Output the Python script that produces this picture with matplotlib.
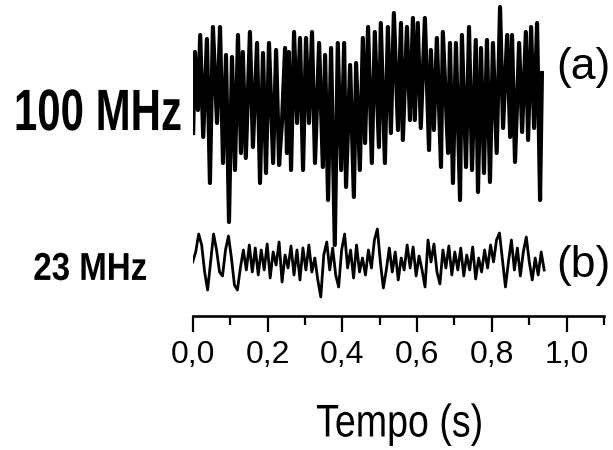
"""Two stacked noise traces (100 MHz and 23 MHz) over a common time axis."""
import matplotlib
matplotlib.use('Agg')
import matplotlib.pyplot as plt
import numpy as np
from matplotlib.patheffects import AbstractPathEffect
from matplotlib.transforms import Affine2D

plt.rcParams['font.family'] = ['Liberation Sans', 'DejaVu Sans']

# (a) 100 MHz trace: time (s) and amplitude (arb. units), read at peaks/troughs
T_A = [0.001, 0.006, 0.014, 0.020, 0.028, 0.038, 0.046, 0.054, 0.065, 0.073,
       0.081, 0.089, 0.097, 0.105, 0.113, 0.121, 0.129, 0.134, 0.142, 0.153,
       0.161, 0.172, 0.180, 0.188, 0.196, 0.204, 0.215, 0.223, 0.231, 0.239,
       0.247, 0.252, 0.257, 0.263, 0.271, 0.279, 0.287, 0.295, 0.303, 0.311,
       0.319, 0.327, 0.338, 0.348, 0.354, 0.362, 0.370, 0.380, 0.388, 0.397,
       0.405, 0.410, 0.421, 0.431, 0.437, 0.447, 0.455, 0.461, 0.469, 0.479,
       0.487, 0.498, 0.503, 0.514, 0.522, 0.530, 0.538, 0.549, 0.557, 0.562,
       0.573, 0.581, 0.589, 0.594, 0.602, 0.610, 0.621, 0.632, 0.637, 0.645,
       0.653, 0.664, 0.669, 0.683, 0.688, 0.696, 0.704, 0.715, 0.720, 0.731,
       0.739, 0.747, 0.757, 0.763, 0.771, 0.779, 0.787, 0.795, 0.803, 0.813,
       0.822, 0.830, 0.841, 0.849, 0.854, 0.862, 0.873, 0.881, 0.891, 0.897,
       0.905, 0.913, 0.921, 0.929, 0.934]
V_A = [-2.3, 5.8, 0.0, 7.5, -2.7, 7.1, -7.3, 8.3, -1.3, 8.3,
       -5.3, 5.5, -11.2, 5.3, -6.0, 7.5, -4.3, 5.8, -4.8, 7.8,
       -3.7, 6.7, -7.3, 5.7, -6.3, 6.7, -5.3, 6.0, -5.5, -1.0,
       6.2, -4.3, 5.8, -6.0, 7.8, -1.3, 7.2, -6.0, 7.2, -1.3,
       7.8, -5.3, 6.7, -5.7, 5.5, -9.0, 6.2, -13.5, 6.7, -6.0,
       6.7, -7.7, 4.5, -8.7, 4.7, -6.0, 7.2, -3.3, 8.3, -5.3,
       7.8, -3.7, 8.7, -5.3, 8.3, -2.3, 9.7, -2.0, 8.7, -3.0,
       8.3, -1.0, 9.2, -1.0, 8.7, -1.8, 9.2, -4.0, 6.0, -2.0,
       7.2, -5.7, 7.8, -4.3, 6.7, -7.3, 6.7, -9.0, 7.5, -5.7,
       8.3, -6.0, 7.0, -8.2, 6.2, -6.3, 7.0, -7.2, 6.7, -4.3,
       10.3, -1.8, 7.5, -2.7, 7.5, -5.2, 6.7, -2.2, 7.8, -3.0,
       8.3, -1.8, 8.7, -9.0, 3.7]

# (b) 23 MHz trace: amplitude (arb. units), evenly sampled from 0 to T_B_END
V_B = [0.0, 1.0, 2.8, 1.7, -1.0, -2.8, 0.0, 2.8, 1.2, -1.0,
       -1.4, 1.2, 2.6, 0.4, -2.3, -2.8, -0.6, 1.2, -0.8, 1.7,
       -1.0, 1.4, -1.3, 1.2, -0.8, 1.8, -1.6, 1.0, -0.3, 2.0,
       -2.0, 0.7, -0.6, 1.6, -1.3, 1.2, -1.8, 1.4, -0.8, 1.7,
       -1.0, 0.4, -1.8, -3.5, 0.7, 2.0, -0.8, 1.4, -1.3, -2.5,
       1.2, 2.8, -0.6, 1.2, -1.6, 1.7, -1.0, 0.4, -1.3, 1.2,
       -0.6, 2.2, 3.3, 0.0, -2.6, -0.8, 1.4, -1.0, 1.0, -1.8,
       0.4, -0.8, 1.7, -0.6, 1.5, -1.4, 0.6, -0.8, -2.5, 2.2,
       0.0, 1.8, -1.0, -2.2, 1.2, -0.6, 1.6, -1.3, 1.0, -0.8,
       1.4, -1.4, 0.7, -0.8, 1.5, -1.7, 0.4, -1.0, 1.2, -0.6,
       1.7, 0.0, 2.2, 2.9, 0.2, -2.5, 0.0, 2.2, -0.8, 1.4,
       -1.4, 1.0, 2.5, 0.0, -1.8, 0.4, -1.3, 1.0, -0.8]
T_B_END = 0.94

XTICKS = [0.0, 0.2, 0.4, 0.6, 0.8, 1.0]
XTICK_LABELS = ['0,0', '0,2', '0,4', '0,6', '0,8', '1,0']
XMINOR = [0.1, 0.3, 0.5, 0.7, 0.9, 1.1]
LABEL_A = '100 MHz'
LABEL_B = '23 MHz'
XLABEL = 'Tempo (s)'


class Squeeze(AbstractPathEffect):
    """Narrow the glyphs horizontally (condensed look), about centre or left."""

    def __init__(self, sx, about='center'):
        super().__init__()
        self.sx = sx
        self.about = about

    def draw_path(self, renderer, gc, tpath, affine, rgbFace=None):
        ext = tpath.get_extents()
        cx = ext.x0 if self.about == 'left' else 0.5 * (ext.x0 + ext.x1)
        squeeze = Affine2D().translate(-cx, 0).scale(self.sx, 1).translate(cx, 0)
        renderer.draw_path(gc, tpath, squeeze + affine, rgbFace)


def main():
    fig = plt.figure(figsize=(6.13, 4.5), dpi=100)
    ax = fig.add_axes([0.3144, 0.2978, 0.6709, 0.7022])

    t_b = np.linspace(0.0, T_B_END, len(V_B))
    ax.plot(T_A, 20.6 + np.array(V_A), color='black', lw=3.0)
    ax.plot(t_b, 5.4 + np.array(V_B), color='black', lw=2.0)

    ax.set_xlim(0, 1.1)
    ax.set_ylim(0, 31.6)
    for side in ('left', 'right', 'top'):
        ax.spines[side].set_visible(False)
    ax.spines['bottom'].set_linewidth(1.9)
    ax.set_yticks([])
    labels = ax.set_xticks(XTICKS, labels=XTICK_LABELS)
    ax.set_xticks(XMINOR, minor=True)
    ax.tick_params(axis='x', which='major', length=11.5, width=1.6,
                   labelsize=23, pad=6)
    ax.tick_params(axis='x', which='minor', length=6.5, width=1.6)
    for lab in labels:
        lab.set_path_effects([Squeeze(0.83)])

    fig.text(0.021, 0.711, LABEL_A, fontsize=42, fontweight='bold',
             ha='left', va='baseline', path_effects=[Squeeze(0.72, 'left')])
    fig.text(0.054, 0.378, LABEL_B, fontsize=28, fontweight='bold',
             ha='left', va='baseline', path_effects=[Squeeze(0.85, 'left')])
    fig.text(0.952, 0.825, '(a)', fontsize=32, ha='center', va='baseline')
    fig.text(0.952, 0.385, '(b)', fontsize=32, ha='center', va='baseline')
    fig.text(0.652, 0.03, XLABEL, fontsize=33, ha='center', va='baseline',
             path_effects=[Squeeze(0.82)])

    fig.savefig('out.png', dpi=100)


if __name__ == '__main__':
    main()
